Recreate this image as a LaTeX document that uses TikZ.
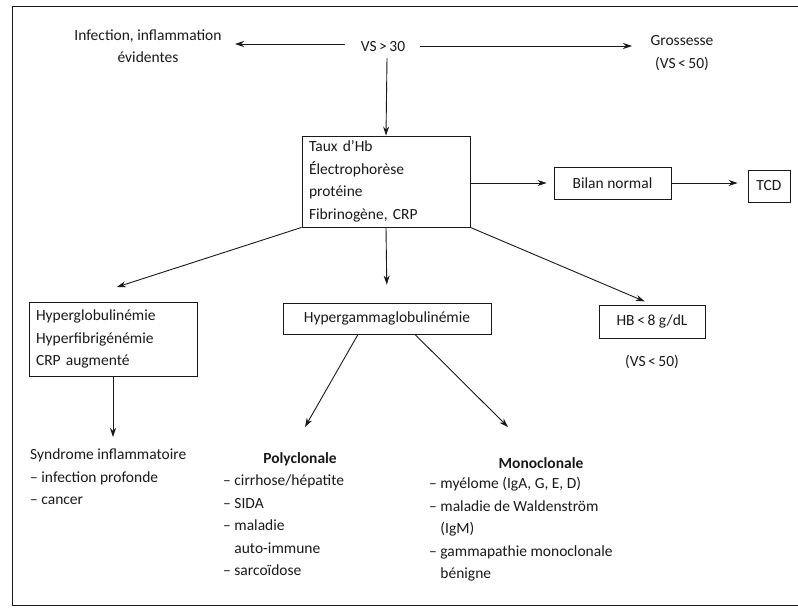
\documentclass[tikz,border=0pt]{standalone}
\usepackage{fontspec}
\setmainfont{Carlito}
\usetikzlibrary{arrows.meta}
\definecolor{ink}{gray}{0.1}
\begin{document}
\begin{tikzpicture}[x=1pt,y=-1pt,
  every node/.style={text=ink,font=\fontsize{15.5}{22.5}\selectfont},
  box/.style={draw=ink,line width=0.9pt,inner xsep=7pt,inner ysep=0pt,align=left},
  txt/.style={inner sep=0pt},
  arr/.style={draw=ink,line width=0.9pt,-{Stealth[length=9pt,width=6pt]}},
  ln/.style={draw=ink,line width=0.9pt}]
\useasboundingbox (0,0) rectangle (798,615);
% open frame
\draw[ln,line width=1pt] (798,7) -- (12,7) -- (12,605) -- (798,605);

% top row
\node[txt,align=center] (inf) at (148,46) {Infection, inflammation\\évidentes};
\node[txt] (vs) at (383,47) {VS\,>\,30};
\node[txt,align=center] (gro) at (682,53) {Grossesse\\(VS\,<\,50)};

% boxes
\node[box,minimum width=168pt,minimum height=91pt,text width=154pt] (taux) at (386,181.5)
  {Taux d’Hb\\Électrophorèse\\protéine\\Fibrinogène, CRP};
\node[box,minimum width=117pt,minimum height=32pt,align=center] (bil) at (612.5,183) {Bilan normal};
\node[box,minimum width=42pt,minimum height=32pt,inner xsep=3pt,align=center] (tcd) at (769,186) {TCD};
\node[box,minimum width=168pt,minimum height=74pt,text width=154pt] (hg) at (113,339)
  {Hyperglobulinémie\\Hyperfibrigénémie\\CRP augmenté};
\node[box,minimum width=208pt,minimum height=31pt,align=center] (hgam) at (387,318.5) {Hypergammaglobulinémie};
\node[box,minimum width=106pt,minimum height=33pt,inner xsep=3pt,align=center] (hb) at (652,321.5) {HB\,<\,8 g/dL};
\node[txt] (hbvs) at (652,362) {(VS\,<\,50)};

% lower texts
\node[txt,anchor=north west,align=left] (syn) at (30,449)
  {Syndrome inflammatoire\\– infection profonde\\– cancer};
\node[txt,font=\fontsize{15.5}{22.5}\selectfont\bfseries] (poly) at (300,459) {Polyclonale};
\node[txt,anchor=north west,align=left] (polyl) at (223,475)
  {– cirrhose/hépatite\\– SIDA\\– maladie\\\phantom{– }auto-immune\\– sarcoïdose};
\node[txt,font=\fontsize{15.5}{22.5}\selectfont\bfseries] (mono) at (541,463) {Monoclonale};
\node[txt,anchor=north west,align=left] (monol) at (429,477)
  {– myélome (IgA, G, E, D)\\– maladie de Waldenström\\\phantom{– }(IgM)\\– gammapathie monoclonale\\\phantom{– }bénigne};

% arrow ends
\coordinate (infin) at (235,44);
\coordinate (vsl) at (345,44);
\coordinate (vsr) at (420,46);
\coordinate (groin) at (632,46);
\coordinate (vsb) at (387,58);
\coordinate (hgin) at (117,287);
\coordinate (polyin) at (305,427);
\coordinate (monoin) at (508,427);

% connectors
\draw[arr] (vsl) -- (infin);
\draw[arr] (vsr) -- (groin);
\draw[arr] (vsb) -- (taux.north);
\draw[arr] (taux.east |- bil.west) -- ([xshift=-7pt]bil.west);
\draw[arr] (bil.east) -- ([xshift=-10pt]tcd.west |- bil.east);
\draw[arr] (taux.south west) -- (hgin);
\draw[arr,shorten >=18pt] (taux.south) -- (hgam.north);
\draw[arr,shorten >=8pt] (taux.south east) -- (hb.north);
\draw[arr,shorten >=12pt] (hg.south) -- (hg.south |- syn.north);
\draw[arr] ([xshift=-29pt]hgam.south) -- (polyin);
\draw[arr] ([xshift=28pt]hgam.south) -- (monoin);
\end{tikzpicture}
\end{document}
